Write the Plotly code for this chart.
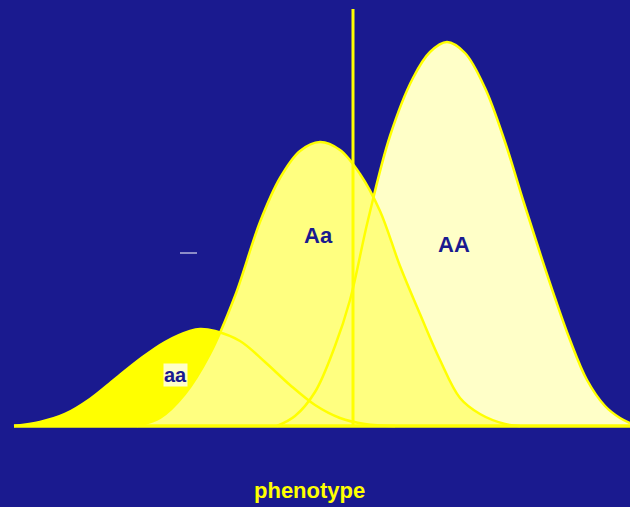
import plotly.graph_objects as go

# Genotype distributions along the phenotype axis (heights)
aa_x = [14, 40, 65, 90, 115, 140, 165, 190, 200, 215, 240, 265, 290, 315, 340, 365, 395]
aa_y = [0, 4, 12, 27, 47, 67, 84, 95, 97, 95, 85, 64, 41, 21, 8, 2, 0]

Aa_x = [137, 160, 185, 210, 235, 260, 280, 300, 320, 340, 360, 380, 400, 420, 440, 460, 480, 505, 520]
Aa_y = [0, 8, 32, 72, 130, 204, 248, 275, 284, 276, 252, 215, 160, 112, 66, 28, 12, 2, 0]

AA_x = [277, 295, 315, 335, 350, 368, 390, 413, 430, 447, 465, 485, 505, 523, 540, 555, 570, 587, 605, 620, 630]
AA_y = [0, 10, 34, 80, 126, 206, 290, 348, 374, 384, 373, 338, 284, 226, 173, 128, 86, 46, 20, 8, 3]

threshold = 353
labels = ["aa", "Aa", "AA"]

BG = "#1a1a8f"
YEL = "#ffff00"
FILL = {"aa": "#ffff00", "Aa": "#ffff80", "AA": "#ffffc8"}
FONT = "Liberation Sans, Arial, sans-serif"

fig = go.Figure()

series = {"aa": (aa_x, aa_y), "Aa": (Aa_x, Aa_y), "AA": (AA_x, AA_y)}

# fills first: AA, aa, then Aa on top
for name in ["AA", "aa", "Aa"]:
    xs, ys = series[name]
    fig.add_trace(go.Scatter(x=xs, y=ys, mode="lines", line=dict(width=0, shape="spline", smoothing=1.0),
                             fill="tozeroy", fillcolor=FILL[name], hoverinfo="skip", showlegend=False))
# outlines on top
for name in ["aa", "Aa", "AA"]:
    xs, ys = series[name]
    fig.add_trace(go.Scatter(x=xs, y=ys, mode="lines", line=dict(width=2.5, color=YEL, shape="spline", smoothing=1.0),
                             hoverinfo="skip", showlegend=False))

# baseline
fig.add_shape(type="line", x0=14, x1=630, y0=0, y1=0, line=dict(color=YEL, width=3.5))
# threshold line
fig.add_shape(type="line", x0=threshold, x1=threshold, y0=0, y1=417, line=dict(color=YEL, width=3))
# small white dash
fig.add_shape(type="line", x0=180, x1=197, y0=173, y1=173, line=dict(color="white", width=1))

fig.add_annotation(x=175.5, y=51, text="<b>aa</b>", showarrow=False,
                   font=dict(family=FONT, size=20, color=BG), bgcolor="#ffffc8", borderpad=0)
fig.add_annotation(x=318, y=191, text="<b>Aa</b>", showarrow=False,
                   font=dict(family=FONT, size=22, color=BG))
fig.add_annotation(x=454, y=182, text="<b>AA</b>", showarrow=False,
                   font=dict(family=FONT, size=22, color=BG))
fig.add_annotation(x=309.5, y=-64, text="<b>phenotype</b>", showarrow=False,
                   font=dict(family=FONT, size=22, color=YEL))

fig.update_layout(
    width=630, height=507,
    margin=dict(l=0, r=0, t=0, b=0),
    paper_bgcolor=BG, plot_bgcolor=BG,
    xaxis=dict(range=[0, 630], visible=False, fixedrange=True),
    yaxis=dict(range=[-81, 426], visible=False, fixedrange=True),
    showlegend=False,
)

fig.write_html("out.html", config={"displayModeBar": False},
               post_script="document.body.style.margin='0';document.body.style.background='%s';" % BG)
